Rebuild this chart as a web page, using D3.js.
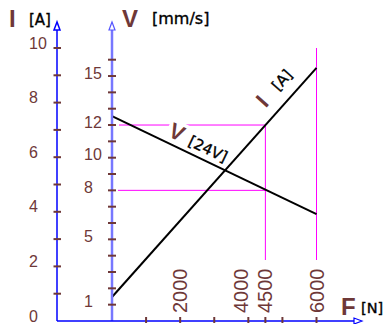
<!DOCTYPE html>
<html>
<head>
<meta charset="utf-8">
<script src="https://cdn.jsdelivr.net/npm/d3@7"></script>
<style>
  html, body { margin: 0; padding: 0; background: #fff; }
  svg { display: block; }
</style>
</head>
<body>
<svg id="chart" width="385" height="324"></svg>
<script>
// Motor characteristic: current I and speed V versus load force F (24 V supply)
const forceEnds = [0, 6000];          // F [N] at both ends of the curves
const currentA = [0.88, 9.27];        // I [A] at F = 0 and F = 6000
const speedMmS = [12.55, 6.55];       // V [mm/s] at F = 0 and F = 6000

const currentTicks = [1, 2, 3, 4, 5, 6, 7, 8, 9, 10];
const currentLabels = [0, 2, 4, 6, 8, 10];
const speedTicks = [1, 2, 3, 4, 5, 6, 7, 8, 9, 10, 11, 12, 13, 14, 15, 16];
const speedLabels = [1, 5, 8, 10, 12, 15];
const forceTicks = [1000, 2000, 3000, 4000, 4500, 5000, 6000];
const forceLabels = ["2000", "4000", "4500", "6000"];

// Reading guides: operating point at 4500 N and the 6000 N limit
const guideForce = [4500, 6000];
const guideSpeed = [12, 8];

const BROWN = "#6e3838";
const svg = d3.select("#chart");

const x = d3.scaleLinear().domain([0, 6000]).range([112, 316.5]);
const yI = d3.scaleLinear().domain([0, 10]).range([321, 48]);
const yV = d3.scaleLinear().domain([0, 16]).range([321, 59.7]);

const xLeft = 57, xV = x(0), yBase = 321;

// guide lines (magenta)
const guides = svg.append("g").attr("stroke", "#ff00ff").attr("stroke-width", 1).attr("fill", "none");
guides.append("line").attr("x1", xV + 7).attr("x2", x(guideForce[0]))
  .attr("y1", yV(guideSpeed[0])).attr("y2", yV(guideSpeed[0]));
guides.append("line").attr("x1", xV + 6).attr("x2", x(guideForce[0]))
  .attr("y1", yV(guideSpeed[1])).attr("y2", yV(guideSpeed[1]));
guides.append("line").attr("x1", x(guideForce[0])).attr("x2", x(guideForce[0]))
  .attr("y1", yV(guideSpeed[0])).attr("y2", 260);
guides.append("line").attr("x1", x(guideForce[1])).attr("x2", x(guideForce[1]))
  .attr("y1", yI(10)).attr("y2", 260);

// characteristic lines
const pts = (ys, sc) => forceEnds.map((f, i) => [x(f), sc(ys[i])]);
const line = d3.line();
svg.append("path").attr("d", line(pts(currentA, yI)))
  .attr("stroke", "#000").attr("stroke-width", 2).attr("fill", "none");
svg.append("path").attr("d", line(pts(speedMmS, yV)))
  .attr("stroke", "#000").attr("stroke-width", 2).attr("fill", "none");

// axes lines
function arrowUp(g, cx, tip) {
  g.append("path")
    .attr("d", `M${cx},${tip} L${cx - 3},${tip + 8} L${cx + 3},${tip + 8} Z`)
    .attr("fill", "#fff");
}
const axL = svg.append("g").attr("stroke", "#0000ff").attr("stroke-width", 1.5);
axL.append("line").attr("x1", xLeft).attr("x2", xLeft).attr("y1", 29).attr("y2", yBase);
arrowUp(axL, xLeft, 22);

const axV = svg.append("g").attr("stroke", "#7777ff").attr("stroke-width", 2.5);
axV.append("line").attr("x1", xV).attr("x2", xV).attr("y1", 29).attr("y2", yBase);
const axVarrow = svg.append("g").attr("stroke", "#5555ff").attr("stroke-width", 1.2);
arrowUp(axVarrow, xV, 22);

const axB = svg.append("g").attr("stroke", "#0000ff").attr("stroke-width", 1.5);
axB.append("line").attr("x1", xLeft).attr("x2", 354).attr("y1", yBase).attr("y2", yBase);
axB.append("path").attr("stroke-width", 1.2)
  .attr("d", `M362,${yBase} L354,${yBase - 3} L354,${yBase + 3} Z`).attr("fill", "#fff");

// current axis ticks + labels
svg.append("g").selectAll("line").data(currentTicks).join("line")
  .attr("x1", xLeft - 3.5).attr("x2", xLeft + 4)
  .attr("y1", d => yI(d)).attr("y2", d => yI(d))
  .attr("stroke", BROWN).attr("stroke-width", 2);
svg.append("g").selectAll("text").data(currentLabels).join("text")
  .attr("x", 29).attr("y", d => yI(d) - 5).attr("dy", "0.35em")
  .attr("font-family", "Liberation Sans, Arial, sans-serif").attr("font-size", 16)
  .attr("fill", BROWN).text(d => d);

// speed axis ticks + labels
svg.append("g").selectAll("line").data(speedTicks).join("line")
  .attr("x1", xV - 4).attr("x2", xV + 4)
  .attr("y1", d => yV(d)).attr("y2", d => yV(d))
  .attr("stroke", BROWN).attr("stroke-width", 2);
svg.append("g").selectAll("text").data(speedLabels).join("text")
  .attr("x", 84).attr("y", d => yV(d) - 3).attr("dy", "0.35em")
  .attr("font-family", "Liberation Sans, Arial, sans-serif").attr("font-size", 16)
  .attr("fill", BROWN).text(d => d);

// force axis ticks + rotated labels
svg.append("g").selectAll("line").data(forceTicks).join("line")
  .attr("x1", d => x(d)).attr("x2", d => x(d))
  .attr("y1", yBase - 4).attr("y2", yBase + 2)
  .attr("stroke", BROWN).attr("stroke-width", 2);
svg.append("g").selectAll("text").data(forceLabels).join("text")
  .attr("transform", d => {
    const shift = d === "4000" ? -7 : 0;
    return `translate(${x(+d) + shift + 7},313) rotate(-90)`;
  })
  .attr("font-family", "Liberation Sans, Arial, sans-serif").attr("font-size", 20)
  .attr("fill", BROWN).text(d => d);

// axis titles and unit captions
const titleFont = "Liberation Sans, Arial, sans-serif";
const unitFont = "DejaVu Sans, Verdana, sans-serif";
function unit(sel, size) {
  return sel.attr("font-family", unitFont).attr("font-size", size)
    .attr("fill", "#000").attr("stroke", "#000").attr("stroke-width", 0.35);
}
svg.append("text").attr("x", 9).attr("y", 27).attr("font-family", titleFont)
  .attr("font-size", 24).attr("font-weight", "bold").attr("fill", BROWN).text("I");
unit(svg.append("text").attr("x", 29).attr("y", 25), 15).text("[A]");
svg.append("text").attr("x", 122).attr("y", 27).attr("font-family", titleFont)
  .attr("font-size", 24).attr("font-weight", "bold").attr("fill", BROWN).text("V");
unit(svg.append("text").attr("x", 152).attr("y", 24), 16).text("[mm/s]");
svg.append("text").attr("x", 341).attr("y", 315).attr("font-family", titleFont)
  .attr("font-size", 24).attr("font-weight", "bold").attr("fill", BROWN).text("F");
unit(svg.append("text").attr("x", 361).attr("y", 313), 14.5).text("[N]");

// in-plot curve labels, following each line's slope
function angleOf(ys, sc) {
  const p = pts(ys, sc);
  return Math.atan2(p[1][1] - p[0][1], p[1][0] - p[0][0]) * 180 / Math.PI;
}
const aI = angleOf(currentA, yI);
const aV = angleOf(speedMmS, yV);

svg.append("text").attr("transform", `translate(262,101) rotate(${aI})`)
  .attr("text-anchor", "middle").attr("dy", "0.35em")
  .attr("font-family", titleFont).attr("font-size", 22).attr("font-weight", "bold")
  .attr("fill", BROWN).text("I");
unit(svg.append("text").attr("transform", `translate(282,80) rotate(${aI})`)
  .attr("text-anchor", "middle").attr("dy", "0.35em"), 15).text("[A]");

const vLab = svg.append("g").attr("transform", `translate(177,132) rotate(${aV})`);
vLab.append("rect").attr("x", -10).attr("y", -11).attr("width", 20).attr("height", 22).attr("fill", "#fff");
vLab.append("text").attr("text-anchor", "middle").attr("dy", "0.35em")
  .attr("font-family", titleFont).attr("font-size", 22).attr("font-weight", "bold")
  .attr("fill", BROWN).text("V");
unit(svg.append("text").attr("transform", `translate(208,149) rotate(${aV})`)
  .attr("text-anchor", "middle").attr("dy", "0.35em"), 15).text("[24V]");
</script>
</body>
</html>
